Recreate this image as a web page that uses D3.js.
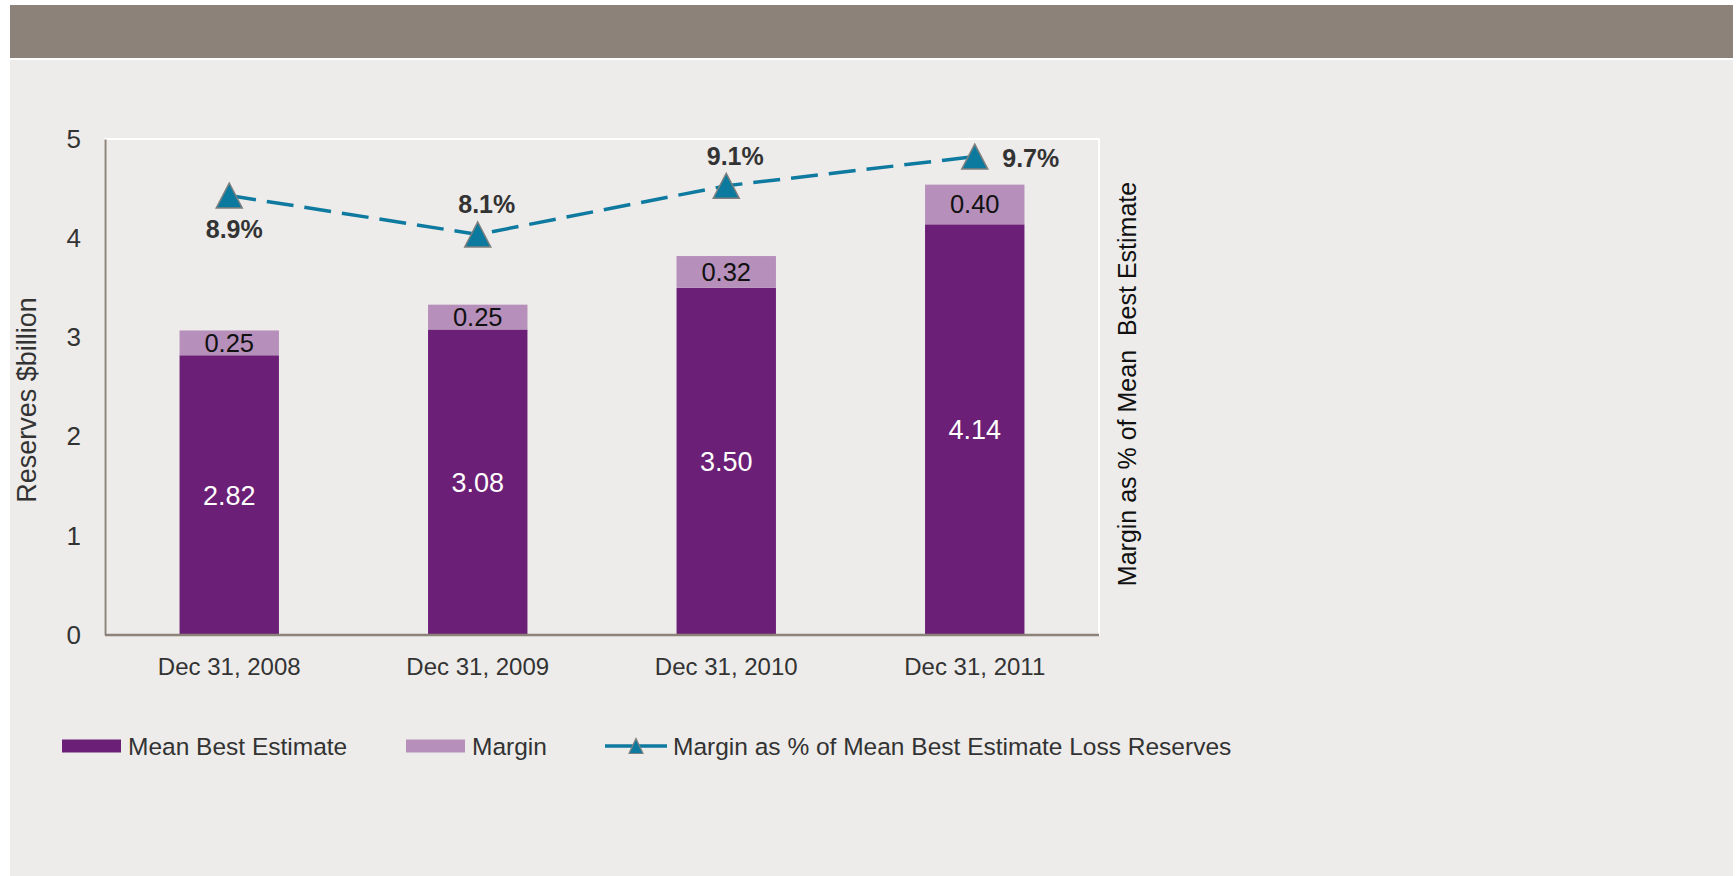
<!DOCTYPE html>
<html>
<head>
<meta charset="utf-8">
<script src="https://cdn.jsdelivr.net/npm/d3@7"></script>
<style>
  html, body { margin: 0; padding: 0; background: #ffffff; }
  svg { display: block; font-family: "Liberation Sans", Arial, sans-serif; }
</style>
</head>
<body>
<svg id="chart" width="1736" height="876"></svg>
<script>
// Reserves by year-end, $billion
const categories = ["Dec 31, 2008", "Dec 31, 2009", "Dec 31, 2010", "Dec 31, 2011"];
const meanBestEstimate = [2.82, 3.08, 3.50, 4.14];
const marginValues = [0.25, 0.25, 0.32, 0.40];
// Margin as % of mean best estimate loss reserves
const marginPct = [8.9, 8.1, 9.1, 9.7];
const yTicks = [0, 1, 2, 3, 4, 5];
const seriesNames = ["Mean Best Estimate", "Margin", "Margin as % of Mean Best Estimate Loss Reserves"];

// where each percentage label sits relative to its marker
const pctLabelPlacement = ["below", "above", "above", "right"];

const W = 1736, H = 876;
const plot = { left: 105, right: 1099, top: 139, bottom: 635 };
const colors = {
  header: "#8C8279",
  panel: "#EDECEA",
  mean: "#6C1F76",
  margin: "#B78FBB",
  line: "#0E7AA0",
  marker: "#0C7A9E",
  markerStroke: "#7F7F7F",
  axis: "#8C8279",
  text: "#333333"
};

const svg = d3.select("#chart");

// page furniture: header band and panel
svg.append("rect").attr("x", 10).attr("y", 5).attr("width", W - 13).attr("height", 53).attr("fill", colors.header);
svg.append("rect").attr("x", 10).attr("y", 60).attr("width", W - 13).attr("height", H - 60).attr("fill", colors.panel);

const x = d3.scaleBand().domain(categories).range([plot.left, plot.right]).paddingInner(0.6).paddingOuter(0.3);
const y = d3.scaleLinear().domain([0, 5]).range([plot.bottom, plot.top]);
// secondary (hidden) axis for the percentage line
const y2 = d3.scaleLinear().domain([-0.12, 10.06]).range([plot.bottom, plot.top]);

// plot area outline
svg.append("rect")
  .attr("x", plot.left).attr("y", plot.top)
  .attr("width", plot.right - plot.left).attr("height", plot.bottom - plot.top)
  .attr("fill", "none").attr("stroke", "#ffffff").attr("stroke-width", 2);

// stacked bars
const stackData = categories.map((c, i) => ({ cat: c, mean: meanBestEstimate[i], margin: marginValues[i] }));
const stacked = d3.stack().keys(["mean", "margin"])(stackData);
const fills = { mean: colors.mean, margin: colors.margin };

const layers = svg.append("g").selectAll("g").data(stacked).join("g").attr("fill", d => fills[d.key]);
layers.selectAll("rect").data(d => d).join("rect")
  .attr("x", d => x(d.data.cat))
  .attr("width", x.bandwidth())
  .attr("y", d => y(d[1]))
  .attr("height", d => y(d[0]) - y(d[1]));

// value labels inside segments
layers.each(function(layer) {
  const inner = layer.key === "mean";
  d3.select(this).selectAll("text").data(layer).join("text")
    .attr("x", d => x(d.data.cat) + x.bandwidth() / 2)
    .attr("y", d => (y(d[0]) + y(d[1])) / 2)
    .attr("dy", "0.35em")
    .attr("text-anchor", "middle")
    .attr("font-size", inner ? 27 : 25.5)
    .attr("fill", inner ? "#ffffff" : "#111111")
    .text(d => (d[1] - d[0]).toFixed(2));
});

// axes
const yAxis = svg.append("g").attr("transform", `translate(${plot.left},0)`)
  .call(d3.axisLeft(y).tickValues(yTicks).tickFormat(d3.format("d")).tickSize(0).tickSizeOuter(0).tickPadding(24));
yAxis.select(".domain").attr("stroke", colors.axis).attr("stroke-width", 2);
yAxis.selectAll("text").attr("font-size", 26).attr("fill", colors.text).attr("font-family", null);

const xAxis = svg.append("g").attr("transform", `translate(0,${plot.bottom})`)
  .call(d3.axisBottom(x).tickSize(0).tickSizeOuter(0).tickPadding(23));
xAxis.select(".domain").attr("stroke", colors.axis).attr("stroke-width", 2.5)
  .attr("d", `M${plot.left},0H${plot.right}`);
xAxis.selectAll("text").attr("font-size", 24).attr("fill", colors.text).attr("font-family", null);

// axis titles
svg.append("text")
  .attr("transform", `translate(27,400) rotate(-90)`)
  .attr("text-anchor", "middle").attr("dy", "0.35em")
  .attr("font-size", 27).attr("fill", colors.text)
  .text("Reserves $billion");

svg.append("text")
  .attr("transform", `translate(1127,384) rotate(-90)`)
  .attr("text-anchor", "middle").attr("dy", "0.35em")
  .attr("font-size", 25).attr("fill", "#111111")
  .style("white-space", "pre")
  .text("Margin as % of Mean  Best Estimate");

// percentage line
const pts = categories.map((c, i) => ({ cat: c, v: marginPct[i], place: pctLabelPlacement[i] }));
const cx = d => x(d.cat) + x.bandwidth() / 2;

svg.append("path")
  .datum(pts)
  .attr("fill", "none")
  .attr("stroke", colors.line)
  .attr("stroke-width", 3.5)
  .attr("stroke-dasharray", "27 11")
  .attr("d", d3.line().x(cx).y(d => y2(d.v)));

const triangle = (w, h) => `M0,${-h / 2}L${w / 2},${h / 2}L${-w / 2},${h / 2}Z`;

svg.append("g").selectAll("path").data(pts).join("path")
  .attr("transform", d => `translate(${cx(d)},${y2(d.v)})`)
  .attr("d", triangle(26, 25))
  .attr("fill", colors.marker)
  .attr("stroke", colors.markerStroke)
  .attr("stroke-width", 1.5);

const placeOffset = {
  below: [5, 34],
  above: [9, -30],
  right: [56, 2]
};
svg.append("g").selectAll("text").data(pts).join("text")
  .attr("x", d => cx(d) + placeOffset[d.place][0])
  .attr("y", d => y2(d.v) + placeOffset[d.place][1])
  .attr("dy", "0.35em")
  .attr("text-anchor", "middle")
  .attr("font-size", 25)
  .attr("font-weight", "bold")
  .attr("fill", colors.text)
  .text(d => d.v.toFixed(1) + "%");

// legend
const legend = svg.append("g").attr("font-size", 24.5).attr("fill", colors.text);
const legendY = 746;
const legendItems = [
  { name: seriesNames[0], type: "rect", color: colors.mean, x0: 62 },
  { name: seriesNames[1], type: "rect", color: colors.margin, x0: 406 },
  { name: seriesNames[2], type: "line", color: colors.line, x0: 605 }
];
legendItems.forEach(item => {
  const g = legend.append("g");
  if (item.type === "rect") {
    g.append("rect").attr("x", item.x0).attr("y", legendY - 6.5).attr("width", 59).attr("height", 13).attr("fill", item.color);
  } else {
    g.append("line").attr("x1", item.x0).attr("x2", item.x0 + 62)
      .attr("y1", legendY).attr("y2", legendY)
      .attr("stroke", item.color).attr("stroke-width", 3.5);
    g.append("path").attr("transform", `translate(${item.x0 + 31},${legendY})`)
      .attr("d", triangle(14, 15))
      .attr("fill", colors.marker).attr("stroke", colors.markerStroke).attr("stroke-width", 1.2);
  }
  g.append("text")
    .attr("x", item.x0 + (item.type === "rect" ? 66 : 68))
    .attr("y", legendY).attr("dy", "0.35em")
    .text(item.name);
});
</script>
</body>
</html>
